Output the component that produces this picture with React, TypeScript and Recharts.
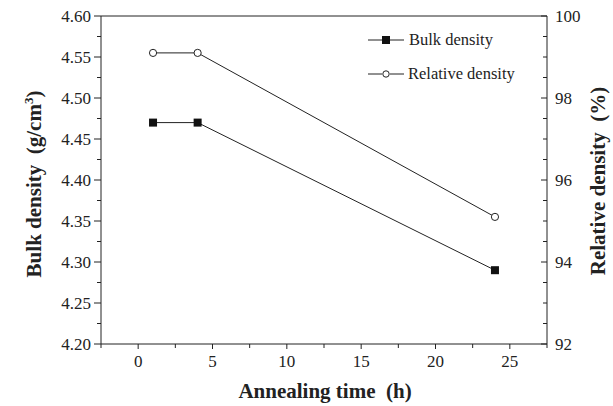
import { LineChart, Line, XAxis, YAxis, ReferenceLine, Label } from 'recharts';

const times = [1, 4, 24];
const bulkDensity = [4.47, 4.47, 4.29];
const relativeDensity = [99.1, 99.1, 95.1];

const xTicks = [-2.5, 0, 2.5, 5, 7.5, 10, 12.5, 15, 17.5, 20, 22.5, 25, 27.5];
const xMajor = [0, 5, 10, 15, 20, 25];
const leftTicks = [4.2, 4.225, 4.25, 4.275, 4.3, 4.325, 4.35, 4.375, 4.4, 4.425, 4.45, 4.475, 4.5, 4.525, 4.55, 4.575, 4.6];
const leftMajor = [4.2, 4.25, 4.3, 4.35, 4.4, 4.45, 4.5, 4.55, 4.6];
const rightTicks = [92, 92.5, 93, 93.5, 94, 94.5, 95, 95.5, 96, 96.5, 97, 97.5, 98, 98.5, 99, 99.5, 100];
const rightMajor = [92, 94, 96, 98, 100];

const data = times.map((t, i) => ({ time: t, bulk: bulkDensity[i], relative: relativeDensity[i] }));

const FONT = "'Liberation Serif', 'Times New Roman', serif";
const INK = '#222';
const tickText = { fontFamily: FONT, fontSize: 17, fill: INK };
const titleText = { fontFamily: FONT, fontSize: 21, fontWeight: 'bold' as const, fill: INK, whiteSpace: 'pre' as const };

const LeftTick = (props: any) => {
  const { x, y, payload } = props;
  const major = leftMajor.includes(payload.value);
  return (
    <g>
      <line x1={x} x2={x - (major ? 7 : 4)} y1={y} y2={y} stroke={INK} />
      {major && (
        <text x={x - 10} y={y} dy="0.35em" textAnchor="end" style={tickText}>
          {payload.value.toFixed(2)}
        </text>
      )}
    </g>
  );
};

const RightTick = (props: any) => {
  const { x, y, payload } = props;
  const major = rightMajor.includes(payload.value);
  return (
    <g>
      <line x1={x} x2={x - (major ? 6 : 4)} y1={y} y2={y} stroke={INK} />
      {major && (
        <text x={x + 8} y={y} dy="0.35em" textAnchor="start" style={tickText}>
          {payload.value}
        </text>
      )}
    </g>
  );
};

const BottomTick = (props: any) => {
  const { x, y, payload } = props;
  const major = xMajor.includes(payload.value);
  return (
    <g>
      <line x1={x} x2={x} y1={y} y2={y + (major ? 5 : 4)} stroke={INK} />
      {major && (
        <text x={x} y={y + 23} textAnchor="middle" style={tickText}>
          {payload.value}
        </text>
      )}
    </g>
  );
};

const SquareDot = (props: any) => {
  const { cx, cy, index } = props;
  return <rect key={`sq-${index}`} x={cx - 4} y={cy - 4} width={8} height={8} fill="#111" />;
};

const CircleDot = (props: any) => {
  const { cx, cy, index } = props;
  return <circle key={`ci-${index}`} cx={cx} cy={cy} r={3.6} fill="#fff" stroke={INK} strokeWidth={1} />;
};

const LegendBox = () => (
  <div style={{ position: 'absolute', left: 366, top: 30, fontFamily: FONT, fontSize: 16.5, color: INK, lineHeight: '20px' }}>
    <div style={{ display: 'flex', alignItems: 'center', height: 20 }}>
      <svg width={40} height={16}>
        <line x1={2} x2={38} y1={8} y2={8} stroke={INK} />
        <rect x={16} y={4} width={8} height={8} fill="#111" />
      </svg>
      <span style={{ marginLeft: 3 }}>Bulk density</span>
    </div>
    <div style={{ display: 'flex', alignItems: 'center', height: 20, marginTop: 14 }}>
      <svg width={40} height={16}>
        <line x1={2} x2={16} y1={8} y2={8} stroke={INK} />
        <line x1={24} x2={38} y1={8} y2={8} stroke={INK} />
        <circle cx={20} cy={8} r={3.2} fill="#fff" stroke={INK} />
      </svg>
      <span style={{ marginLeft: 2 }}>Relative density</span>
    </div>
  </div>
);

export default function App() {
  return (
    <div style={{ position: 'absolute', left: 0, top: 0, width: 613, height: 406, background: '#fff' }}>
      <LineChart width={613} height={406} data={data} margin={{ top: 16, right: 0, bottom: 0, left: 0 }}>
        <XAxis
          dataKey="time"
          type="number"
          domain={[-2.5, 27.5]}
          ticks={xTicks}
          interval={0}
          height={62}
          tickSize={0}
          tickMargin={0}
          tickLine={false}
          tick={<BottomTick />}
          axisLine={{ stroke: INK }}
        >
          <Label
            content={() => (
              <text x={325} y={398} textAnchor="middle" style={titleText}>
                Annealing time  (h)
              </text>
            )}
          />
        </XAxis>
        <YAxis
          yAxisId="left"
          orientation="left"
          domain={[4.2, 4.6]}
          ticks={leftTicks}
          interval={0}
          width={101}
          tickSize={0}
          tickMargin={0}
          tickLine={false}
          tick={<LeftTick />}
          axisLine={{ stroke: INK }}
        >
          <Label
            content={() => (
              <text x={34} y={184} transform="rotate(-90 34 184)" textAnchor="middle" dy="0.35em" style={titleText}>
                Bulk density  (g/cm
                <tspan dy={-8} fontSize={13}>3</tspan>
                <tspan dy={8}>)</tspan>
              </text>
            )}
          />
        </YAxis>
        <YAxis
          yAxisId="right"
          orientation="right"
          domain={[92, 100]}
          ticks={rightTicks}
          interval={0}
          width={66}
          tickSize={0}
          tickMargin={0}
          tickLine={false}
          tick={<RightTick />}
          axisLine={{ stroke: INK }}
        >
          <Label
            content={() => (
              <text x={598} y={181} transform="rotate(-90 598 181)" textAnchor="middle" dy="0.35em" style={titleText}>
                Relative density  (%)
              </text>
            )}
          />
        </YAxis>
        <ReferenceLine yAxisId="left" y={4.6} stroke={INK} />
        <Line
          yAxisId="left"
          dataKey="bulk"
          name="Bulk density"
          stroke={INK}
          strokeWidth={1}
          dot={<SquareDot />}
          activeDot={false}
          isAnimationActive={false}
        />
        <Line
          yAxisId="right"
          dataKey="relative"
          name="Relative density"
          stroke={INK}
          strokeWidth={1}
          dot={<CircleDot />}
          activeDot={false}
          isAnimationActive={false}
        />
      </LineChart>
      <LegendBox />
    </div>
  );
}
